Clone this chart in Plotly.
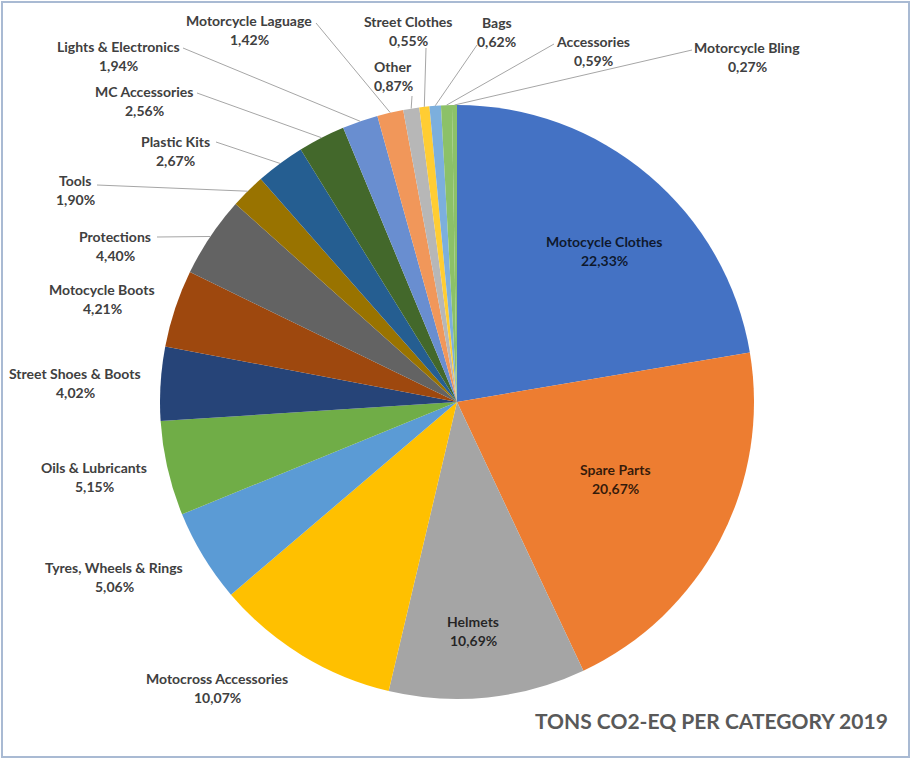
import math
import plotly.graph_objects as go

W, H = 912, 761

categories = [
    "Motocycle Clothes", "Spare Parts", "Helmets", "Motocross Accessories",
    "Tyres, Wheels & Rings", "Oils & Lubricants", "Street Shoes & Boots",
    "Motocycle Boots", "Protections", "Tools", "Plastic Kits", "MC Accessories",
    "Lights & Electronics", "Motorcycle Laguage", "Other", "Street Clothes",
    "Bags", "Accessories", "Motorcycle Bling",
]
shares = [22.33, 20.67, 10.69, 10.07, 5.06, 5.15, 4.02, 4.21, 4.40, 1.90,
          2.67, 2.56, 1.94, 1.42, 0.87, 0.55, 0.62, 0.59, 0.27]
pct_labels = ["22,33%", "20,67%", "10,69%", "10,07%", "5,06%", "5,15%", "4,02%",
              "4,21%", "4,40%", "1,90%", "2,67%", "2,56%", "1,94%", "1,42%",
              "0,87%", "0,55%", "0,62%", "0,59%", "0,27%"]
colors = ["#4472C4", "#ED7D31", "#A5A5A5", "#FFC000", "#5B9BD5", "#70AD47",
          "#264478", "#9E480E", "#636363", "#997300", "#255E91", "#43682B",
          "#698ED0", "#F1975A", "#B7B7B7", "#FFCD33", "#7CAFDD", "#8CC168",
          "#8CC168"]

# Layout: label block centres (px) and leader-line start near label (px) or None
label_pos = [
    (604, 251, None), (615, 479, None), (473, 631, None), (217, 688, None),
    (114, 577, None), (94, 477, None), (75, 383, None), (102, 299, None),
    (115, 246, (157, 237)), (75, 190, (97, 185)), (175, 151, (216, 142)),
    (144, 101, (197, 93)), (118, 56, (183, 48)), (249, 30, (316, 23)),
    (393, 76, (412, 96)), (408, 31, (426, 48)), (497, 32, (477, 45)),
    (593, 51, (554, 44)), (747, 57, (692, 50)),
]
inside = {0, 1, 2}

# pie geometry (px)
CX, CY, R = 457, 402, 297

def px(x):
    return x / W

def py(y):
    return 1 - y / H

fig = go.Figure()
fig.add_trace(go.Pie(
    labels=categories, values=shares, sort=False, direction="clockwise",
    rotation=0, marker=dict(colors=colors, line=dict(width=0)),
    textinfo="none", hoverinfo="label+percent", showlegend=False,
    domain=dict(x=[px(CX - R), px(CX + R)], y=[py(CY + R), py(CY - R)]),
))

total = sum(shares)
shapes = []
annotations = []
cum = 0.0
font_family = "Lato, 'Open Sans', sans-serif"
for i, (name, val, pl) in enumerate(zip(categories, shares, pct_labels)):
    mid = (cum + val / 2) / total * 2 * math.pi
    cum += val
    ex = CX + R * math.sin(mid)
    ey = CY - R * math.cos(mid)
    cx, cy, lead = label_pos[i]
    col = "rgba(0,0,0,0.78)" if i in inside else "#404040"
    for txt, dy in ((name, -9.5), (pl, 9.5)):
        annotations.append(dict(
            x=px(cx), y=py(cy + dy), xref="paper", yref="paper", text=txt,
            showarrow=False, xanchor="center", yanchor="middle",
            font=dict(family=font_family, size=14, color=col, weight="bold"),
        ))
    if lead is not None:
        shapes.append(dict(
            type="line", xref="paper", yref="paper",
            x0=px(lead[0]), y0=py(lead[1]), x1=px(ex), y1=py(ey),
            line=dict(color="#A6A6A6", width=1),
        ))

annotations.append(dict(
    x=px(890), y=py(720), xref="paper", yref="paper",
    text="TONS CO2-EQ PER CATEGORY 2019", showarrow=False,
    xanchor="right", yanchor="middle",
    font=dict(family=font_family, size=21, color="#595959", weight="bold"),
))

shapes.append(dict(
    type="rect", xref="paper", yref="paper",
    x0=px(2), y0=py(757), x1=px(909), y1=py(2),
    line=dict(color="#A9BAD3", width=2), layer="above",
))

fig.update_layout(
    width=W, height=H, margin=dict(l=0, r=0, t=0, b=0),
    paper_bgcolor="white", plot_bgcolor="white",
    shapes=shapes, annotations=annotations,
)

fig.write_html(
    "out.html",
    config={"displayModeBar": False},
    post_script="document.body.style.margin='0';document.body.style.overflow='hidden';",
)
